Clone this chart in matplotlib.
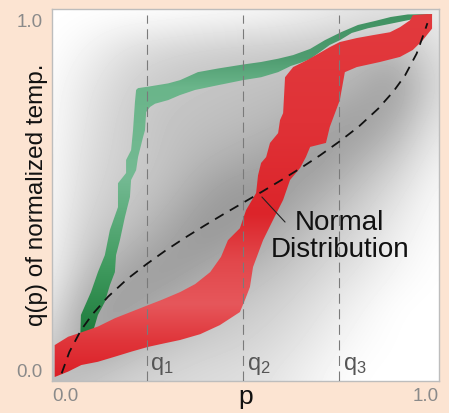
import numpy as np
import matplotlib
matplotlib.use('Agg')
import matplotlib.pyplot as plt
from matplotlib.colors import LinearSegmentedColormap

# ---- data ----
# quantile positions marked by the vertical lines
q_marks = [0.25, 0.50, 0.75]
q_names = ['q$_1$', 'q$_2$', 'q$_3$']

# dashed "normal distribution" quantile curve
norm_p = [0.03, 0.05, 0.08, 0.11, 0.15, 0.20, 0.25, 0.30, 0.35, 0.40, 0.45, 0.50,
          0.55, 0.60, 0.65, 0.70, 0.75, 0.80, 0.85, 0.89, 0.92, 0.95, 0.97, 0.978]
norm_q = [0.010, 0.069, 0.129, 0.173, 0.221, 0.270, 0.311, 0.349, 0.384, 0.417, 0.449, 0.480,
          0.511, 0.543, 0.576, 0.611, 0.649, 0.690, 0.739, 0.787, 0.831, 0.891, 0.950, 0.975]
# where the "Normal Distribution" leader touches the curve, and where it ends
note_at = (0.549, 0.496)
note_end = (0.609, 0.427)

# green band: upper/left edge and lower/right edge
green_up_p = [0.078, 0.080, 0.106, 0.124, 0.142, 0.155, 0.176, 0.176, 0.197, 0.197, 0.210, 0.215,
              0.220, 0.223, 0.228, 0.254, 0.306, 0.337, 0.383, 0.435, 0.500, 0.547, 0.591, 0.630,
              0.674, 0.712, 0.754, 0.798, 0.842, 0.883, 0.927, 0.990]
green_up_q = [0.102, 0.171, 0.234, 0.289, 0.336, 0.405, 0.468, 0.534, 0.562, 0.598, 0.625, 0.680,
              0.758, 0.791, 0.796, 0.800, 0.809, 0.818, 0.840, 0.850, 0.861, 0.868, 0.877, 0.887,
              0.904, 0.928, 0.950, 0.970, 0.981, 0.992, 0.999, 1.000]
green_lo_p = [0.117, 0.111, 0.124, 0.142, 0.155, 0.168, 0.171, 0.181, 0.194, 0.207, 0.210, 0.223,
              0.228, 0.241, 0.246, 0.249, 0.259, 0.272, 0.306, 0.337, 0.376, 0.435, 0.500, 0.547,
              0.591, 0.624, 0.650, 0.674, 0.699, 0.725, 0.751, 0.782, 0.824, 0.876, 0.927, 0.990]
green_lo_q = [0.102, 0.124, 0.171, 0.207, 0.253, 0.289, 0.336, 0.377, 0.441, 0.496, 0.543, 0.570,
              0.606, 0.661, 0.680, 0.730, 0.744, 0.753, 0.763, 0.777, 0.791, 0.804, 0.818, 0.826,
              0.840, 0.857, 0.866, 0.876, 0.895, 0.915, 0.928, 0.948, 0.961, 0.972, 0.983, 0.997]

# red band: upper/left edge and lower/right edge
red_up_p = [0.012, 0.047, 0.081, 0.124, 0.168, 0.211, 0.254, 0.288, 0.337, 0.376, 0.415, 0.443,
            0.461, 0.492, 0.508, 0.534, 0.539, 0.547, 0.560, 0.570, 0.591, 0.596, 0.604, 0.609,
            0.630, 0.666, 0.699, 0.725, 0.751, 0.795, 0.837, 0.881, 0.907, 0.933, 0.940, 0.977, 0.990]
red_up_q = [0.088, 0.111, 0.123, 0.139, 0.162, 0.180, 0.198, 0.212, 0.234, 0.256, 0.289, 0.331,
            0.377, 0.410, 0.460, 0.507, 0.556, 0.590, 0.606, 0.645, 0.672, 0.708, 0.727, 0.826,
            0.854, 0.873, 0.893, 0.909, 0.923, 0.934, 0.942, 0.950, 0.964, 0.983, 0.997, 1.000, 1.000]
red_lo_p = [0.012, 0.047, 0.081, 0.124, 0.168, 0.211, 0.254, 0.297, 0.337, 0.389, 0.440, 0.492,
            0.505, 0.518, 0.526, 0.552, 0.578, 0.604, 0.622, 0.648, 0.663, 0.674, 0.715, 0.725,
            0.751, 0.764, 0.795, 0.855, 0.907, 0.940, 0.966, 0.990]
red_lo_q = [0.000, 0.015, 0.033, 0.042, 0.056, 0.070, 0.083, 0.093, 0.102, 0.118, 0.143, 0.179,
            0.212, 0.248, 0.303, 0.377, 0.433, 0.488, 0.543, 0.576, 0.606, 0.634, 0.645, 0.689,
            0.763, 0.840, 0.854, 0.868, 0.882, 0.901, 0.928, 0.960]

# grey density of all curves, brightness 0-255; rows q = 0.0 .. 1.0, columns p = 0.0 .. 1.0
density = np.array([
    [185, 198, 210, 215, 220, 222, 232, 245, 255, 255, 255],
    [215, 155, 178, 195, 205, 210, 220, 235, 250, 255, 255],
    [235, 165, 155, 172, 190, 200, 210, 225, 242, 255, 255],
    [245, 192, 165, 152, 165, 182, 195, 212, 228, 245, 255],
    [248, 205, 192, 168, 148, 158, 178, 198, 215, 238, 252],
    [250, 215, 200, 188, 162, 148, 155, 178, 200, 225, 250],
    [250, 220, 205, 195, 182, 172, 162, 152, 178, 205, 242],
    [252, 225, 205, 195, 192, 188, 182, 168, 152, 178, 230],
    [252, 230, 210, 200, 196, 194, 192, 188, 178, 152, 220],
    [255, 242, 222, 212, 206, 202, 200, 196, 190, 185, 225],
    [255, 255, 255, 255, 252, 250, 245, 238, 230, 225, 238],
])

XLIM = (0.005, 1.008)
YLIM = (-0.011, 1.014)

plt.rcParams['font.family'] = ['Liberation Sans', 'DejaVu Sans']
plt.rcParams['mathtext.fontset'] = 'custom'
plt.rcParams['mathtext.rm'] = 'Liberation Sans'
plt.rcParams['mathtext.it'] = 'Liberation Sans'

fig = plt.figure(figsize=(4.49, 4.13), dpi=100, facecolor='#fce4d2')
ax = fig.add_axes([52 / 449, 32 / 413, 387 / 449, 372 / 413])
ax.set_facecolor('white')

# grey background cloud
ax.imshow(density, cmap='gray', vmin=0, vmax=255, origin='lower',
          extent=(-0.05, 1.05, -0.05, 1.05), interpolation='bicubic',
          aspect='auto', zorder=0)

ramp = np.linspace(0, 1, 256).reshape(-1, 1)

# green band with a vertical shade
green_cmap = LinearSegmentedColormap.from_list('g', [
    (0.0, '#1d7a3a'), (0.12, '#1f7c3d'), (0.3, '#3f9a5e'), (0.55, '#74ba93'),
    (0.8, '#6ab58a'), (0.88, '#4f9c70'), (1.0, '#3f9262')])
green_poly = ax.fill(np.r_[green_up_p, green_lo_p[::-1]], np.r_[green_up_q, green_lo_q[::-1]],
                     facecolor='none', edgecolor='none', zorder=2)[0]
g_img = ax.imshow(ramp, cmap=green_cmap, origin='lower', extent=(0, 1, 0, 1),
                  aspect='auto', zorder=2)
g_img.set_clip_path(green_poly)

# red band
red_cmap = LinearSegmentedColormap.from_list('r', [
    (0.0, '#dc1f26'), (0.1, '#e0363b'), (0.2, '#e6575b'), (0.32, '#e2474b'),
    (0.45, '#dc242a'), (0.7, '#e03237'), (1.0, '#e23a3e')])
red_poly = ax.fill(np.r_[red_up_p, red_lo_p[::-1]], np.r_[red_up_q, red_lo_q[::-1]],
                   facecolor='none', edgecolor='none', zorder=3)[0]
r_img = ax.imshow(ramp, cmap=red_cmap, origin='lower', extent=(0, 1, 0, 1),
                  aspect='auto', zorder=3)
r_img.set_clip_path(red_poly)

# quantile markers
for qm, name in zip(q_marks, q_names):
    ax.axvline(qm, ymin=0, ymax=0.984, color='#7a7a7a', lw=0.8, dashes=(9, 5), zorder=4)
    ax.text(qm + 0.01, 0.018, name, fontsize=17, color='#555555', ha='left',
            va='baseline', zorder=5)

# normal distribution curve
ax.plot(norm_p, norm_q, color='#111111', lw=1.3, dashes=(5.5, 4), zorder=5)

ax.annotate('', xy=note_at, xytext=note_end,
            arrowprops=dict(arrowstyle='-', color='#222222', lw=0.8, shrinkA=0, shrinkB=0),
            zorder=6)
ax.text(0.751, 0.386, 'Normal\nDistribution', ha='center', va='center', fontsize=20,
        color='#111111', linespacing=1.05, zorder=6)

ax.set_xlim(*XLIM)
ax.set_ylim(*YLIM)

ax.set_xticks([XLIM[0], XLIM[1]], labels=['0.0', '1.0'])
ax.set_yticks([0, 1], labels=['0.0', '1.0'])
ax.tick_params(length=0, labelsize=13.5, labelcolor='#8a8a8a')
ax.tick_params(axis='x', pad=5)
ax.tick_params(axis='y', pad=7)
for lbl, ha in zip(ax.get_xticklabels(), ['left', 'right']):
    lbl.set_ha(ha)
for lbl, va in zip(ax.get_yticklabels(), ['baseline', 'top']):
    lbl.set_va(va)

ax.set_ylabel('q(p) of normalized temp.', fontsize=17.5, color='#111111', va='center')
ax.yaxis.set_label_coords(-0.039, 0.5)
ax.set_xlabel('p', fontsize=19, color='#111111', va='baseline')
ax.xaxis.set_label_coords(0.5, -0.062)

for sp in ax.spines.values():
    sp.set_color('#bdbdbd')
    sp.set_linewidth(1.0)

fig.savefig('out.png', dpi=100, facecolor=fig.get_facecolor())
